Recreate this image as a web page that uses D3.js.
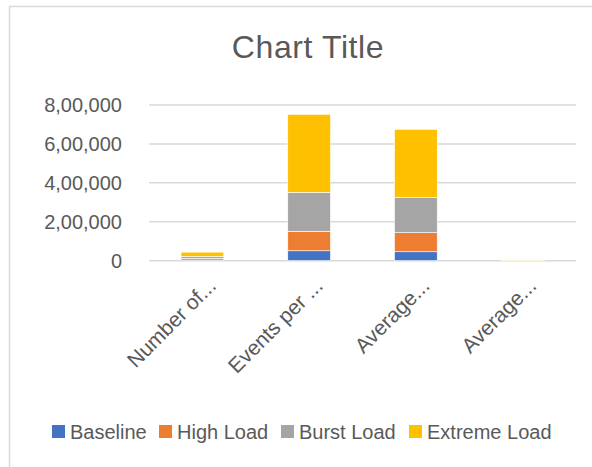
<!DOCTYPE html>
<html>
<head>
<meta charset="utf-8">
<script src="https://cdn.jsdelivr.net/npm/d3@7"></script>
<style>
  body { margin: 0; background: #fff; }
  text { font-family: "Liberation Sans", Arial, sans-serif; fill: #595959; }
</style>
</head>
<body>
<div id="chart"></div>
<script>
var categories = ["Number of...", "Events per ...", "Average...", "Average..."];
var seriesNames = ["Baseline", "High Load", "Burst Load", "Extreme Load"];
var baseline = [3000, 51000, 46000, 500];
var highLoad = [9000, 100000, 98000, 800];
var burstLoad = [10000, 200000, 180000, 1000];
var extremeLoad = [22000, 401000, 351000, 2000];
var yTicks = [0, 200000, 400000, 600000, 800000];
var yTickLabels = ["0", "2,00,000", "4,00,000", "6,00,000", "8,00,000"];
var colors = ["#4472C4", "#ED7D31", "#A5A5A5", "#FFC000"];

var width = 592,
    height = 467;

var rows = categories.map(function(c, i) {
    return {cat: i, "Baseline": baseline[i], "High Load": highLoad[i],
            "Burst Load": burstLoad[i], "Extreme Load": extremeLoad[i]};
});

var svg = d3.select("#chart")
  .append("svg")
    .attr("width", width)
    .attr("height", height);

// chart frame
svg.append("rect")
    .attr("x", 9.5).attr("y", 6.5)
    .attr("width", 620).attr("height", 500)
    .attr("fill", "none")
    .attr("stroke", "#d9d9d9")
    .attr("stroke-width", 1.5);

svg.append("text")
    .attr("x", 308)
    .attr("y", 58)
    .attr("text-anchor", "middle")
    .style("font-size", "32px")
    .style("letter-spacing", "0.6px")
    .text("Chart Title");

var x = d3.scaleBand()
    .domain(d3.range(categories.length))
    .range([149, 576])
    .paddingInner(0.6)
    .paddingOuter(0.3);

var y = d3.scaleLinear()
    .domain([0, 800000])
    .range([260.7, 105]);

// gridlines
svg.append("g")
  .selectAll("line")
  .data(yTicks)
  .enter()
  .append("line")
    .attr("x1", 149).attr("x2", 576)
    .attr("y1", function(d) { return y(d); })
    .attr("y2", function(d) { return y(d); })
    .attr("stroke", "#d9d9d9")
    .attr("stroke-width", 1.5);

// y labels
svg.append("g")
  .selectAll("text")
  .data(yTicks)
  .enter()
  .append("text")
    .attr("x", 122)
    .attr("y", function(d) { return y(d); })
    .attr("dy", "0.35em")
    .attr("text-anchor", "end")
    .style("font-size", "20px")
    .text(function(d, i) { return yTickLabels[i]; });

var stacked = d3.stack().keys(seriesNames)(rows);

svg.append("g")
  .selectAll("g")
  .data(stacked)
  .enter()
  .append("g")
    .attr("fill", function(d, i) { return colors[i]; })
  .selectAll("rect")
  .data(function(d) { return d; })
  .enter()
  .append("rect")
    .attr("x", function(d) { return x(d.data.cat); })
    .attr("width", x.bandwidth())
    .attr("y", function(d) { return y(d[1]); })
    .attr("height", function(d) { return y(d[0]) - y(d[1]); })
    .attr("stroke", "#ffffff")
    .attr("stroke-width", 0.6);

// x labels, rotated
svg.append("g")
  .selectAll("text")
  .data(categories)
  .enter()
  .append("text")
    .attr("text-anchor", "end")
    .attr("transform", function(d, i) {
        return "translate(" + (x(i) + x.bandwidth() / 2 + 15) + ",287) rotate(-45)";
    })
    .style("font-size", "21px")
    .text(function(d) { return d; });

// legend
var legendX = [52, 159, 281, 409];
var legend = svg.append("g")
  .selectAll("g")
  .data(seriesNames)
  .enter()
  .append("g")
    .attr("transform", function(d, i) { return "translate(" + legendX[i] + ",425)"; });

legend.append("rect")
    .attr("width", 13).attr("height", 13)
    .attr("fill", function(d, i) { return colors[i]; });

legend.append("text")
    .attr("x", 18)
    .attr("y", 14)
    .style("font-size", "20px")
    .text(function(d) { return d; });
</script>
</body>
</html>
